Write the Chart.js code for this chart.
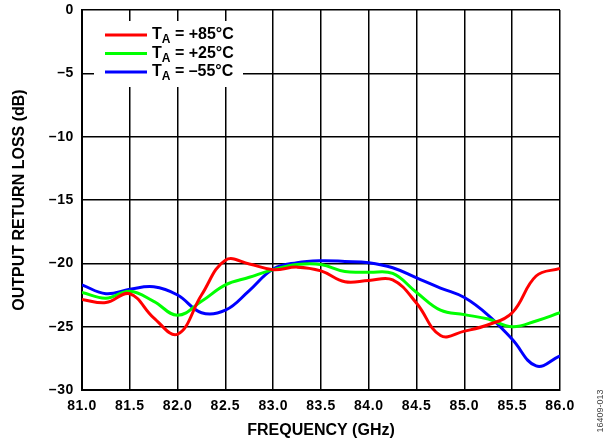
<!DOCTYPE html>
<html>
<head>
<meta charset="utf-8">
<script src="https://cdn.jsdelivr.net/npm/chart.js@4.4.1/dist/chart.umd.min.js"></script>
<style>
  html, body { margin: 0; padding: 0; background: #fff; }
  canvas { display: block; }
</style>
</head>
<body>
<canvas id="myChart" width="613" height="447"></canvas>
<script>
// frequency points (GHz)
const freqs = [81.0, 81.25, 81.5, 81.75, 82.0, 82.25, 82.5, 82.75, 83.0, 83.25, 83.5,
  83.75, 84.0, 84.25, 84.5, 84.75, 85.0, 85.25, 85.5, 85.75, 86.0];

// output return loss (dB)
const loss85 = [-22.85, -23.1, -22.4, -24.3, -25.6, -22.5, -19.75, -20.05, -20.5, -20.3, -20.6,
  -21.45, -21.35, -21.3, -23.15, -25.7, -25.35, -24.85, -23.9, -21.0, -20.4];
const loss25 = [-22.3, -22.75, -22.2, -23.0, -24.1, -23.0, -21.7, -21.1, -20.5, -20.1, -20.1,
  -20.65, -20.7, -20.8, -22.3, -23.7, -24.05, -24.4, -25.0, -24.55, -23.9];
const lossM55 = [-21.7, -22.4, -22.05, -21.85, -22.5, -23.9, -23.7, -22.15, -20.45, -19.95, -19.8,
  -19.85, -19.95, -20.35, -21.15, -21.95, -22.7, -24.1, -26.0, -28.1, -27.3];

const tempLabels = ["+85°C", "+25°C", "–55°C"];
const colors = ["#ff0000", "#00ff00", "#0000ff"];

const ctx = document.getElementById("myChart").getContext("2d");

// tick labels in the original are a bit wider than Arial, add some letter spacing
const origDrawLabels = Chart.Scale.prototype.drawLabels;
Chart.Scale.prototype.drawLabels = function (area) {
  this.ctx.save();
  this.ctx.letterSpacing = "0.6px";
  origDrawLabels.call(this, area);
  this.ctx.restore();
};

const toPoints = (vals) => vals.map((v, i) => ({ x: freqs[i], y: v }));

const datasets = [loss85, loss25, lossM55].map((vals, i) => ({
  label: "TA = " + tempLabels[i],
  data: toPoints(vals),
  borderColor: colors[i],
  backgroundColor: colors[i],
  borderWidth: 3,
  pointRadius: 0,
  fill: false,
  tension: 0.4,
}));

const font = "'Liberation Sans', Arial, sans-serif";

// legend box drawn inside the plot, with subscript "A"
const legendPlugin = {
  id: "boxLegend",
  afterDatasetsDraw(chart) {
    const c = chart.ctx;
    c.save();
    c.fillStyle = "#fff";
    c.fillRect(94, 21, 149, 66);
    const rows = [35, 53.5, 72];
    chart.data.datasets.forEach((ds, i) => {
      const y = rows[i];
      c.strokeStyle = ds.borderColor;
      c.lineWidth = 3;
      c.beginPath();
      c.moveTo(105, y);
      c.lineTo(147, y);
      c.stroke();
      c.fillStyle = "#000";
      c.textBaseline = "middle";
      c.font = "bold 16px " + font;
      c.fillText("T", 152, y);
      const tw = c.measureText("T").width;
      c.font = "bold 12px " + font;
      c.fillText("A", 152 + tw, y + 5);
      const aw = c.measureText("A").width;
      c.font = "bold 16px " + font;
      c.fillText(" = " + tempLabels[i], 152 + tw + aw, y);
    });
    c.restore();
  },
  afterDraw(chart) {
    const c = chart.ctx;
    c.save();
    c.translate(601, 411);
    c.rotate(-Math.PI / 2);
    c.font = "9px " + font;
    c.fillStyle = "#444";
    c.textAlign = "center";
    c.textBaseline = "middle";
    c.fillText("16409-013", 0, 0);
    c.restore();
  },
};

const myChart = new Chart(ctx, {
  type: "line",
  data: { datasets: datasets },
  options: {
    responsive: false,
    animation: false,
    layout: { padding: { top: 10, right: 53, left: 0, bottom: 0 } },
    plugins: { legend: { display: false }, tooltip: { enabled: false } },
    scales: {
      x: {
        type: "linear",
        min: 81,
        max: 86,
        afterFit: (s) => { s.height = 57; s.paddingLeft = 0; s.paddingRight = 0; },
        ticks: {
          stepSize: 0.5,
          padding: 8,
          color: "#000",
          font: { family: font, size: 14, weight: "bold" },
          callback: (v) => v.toFixed(1),
        },
        grid: { color: "#000", lineWidth: 1.5, drawTicks: false },
        border: { color: "#000", width: 2 },
        title: {
          display: true,
          text: "FREQUENCY (GHz)",
          color: "#000",
          font: { family: font, size: 16, weight: "bold" },
          padding: { top: 4, bottom: 7 },
        },
      },
      y: {
        min: -30,
        max: 0,
        afterFit: (s) => { s.width = 82; s.paddingTop = 0; s.paddingBottom = 0; },
        ticks: {
          stepSize: 5,
          padding: 8,
          color: "#000",
          font: { family: font, size: 14, weight: "bold" },
          callback: (v) => (v < 0 ? "–" + Math.abs(v) : String(v)),
        },
        grid: { color: "#000", lineWidth: 1.5, drawTicks: false },
        border: { color: "#000", width: 2 },
        title: {
          display: true,
          text: "OUTPUT RETURN LOSS (dB)",
          color: "#000",
          font: { family: font, size: 16, weight: "bold" },
          padding: { top: 10, bottom: 0 },
        },
      },
    },
  },
  plugins: [legendPlugin],
});
</script>
</body>
</html>
